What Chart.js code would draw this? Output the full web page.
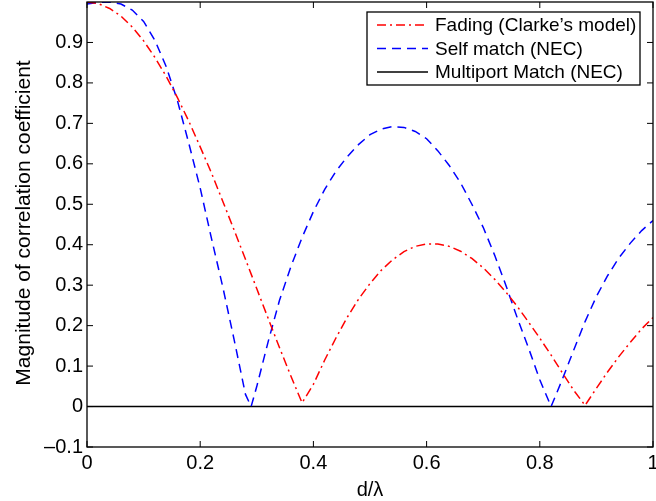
<!DOCTYPE html>
<html>
<head>
<meta charset="utf-8">
<script src="https://cdn.jsdelivr.net/npm/chart.js@4/dist/chart.umd.min.js"></script>
<style>
  html, body { margin: 0; padding: 0; background: #fff; }
  canvas { display: block; }
</style>
</head>
<body>
<canvas id="chart" width="656" height="501"></canvas>
<script>
// x positions (d/lambda) and values
const dFading = [0, 0.02, 0.04, 0.06, 0.08, 0.10, 0.12, 0.14, 0.16, 0.18, 0.20, 0.22, 0.24, 0.26, 0.28, 0.30, 0.32, 0.34, 0.36, 0.38, 0.40, 0.42, 0.44, 0.46, 0.48, 0.50, 0.52, 0.54, 0.56, 0.58, 0.60, 0.62, 0.64, 0.66, 0.68, 0.70, 0.72, 0.74, 0.76, 0.78, 0.80, 0.82, 0.84, 0.86, 0.88, 0.90, 0.92, 0.94, 0.96, 0.98, 1.00];
const fading = [1.000, 0.996, 0.984, 0.965, 0.938, 0.904, 0.863, 0.816, 0.763, 0.705, 0.642, 0.577, 0.507, 0.436, 0.364, 0.291, 0.218, 0.146, 0.076, 0.009, 0.055, 0.115, 0.170, 0.221, 0.266, 0.304, 0.337, 0.363, 0.383, 0.396, 0.402, 0.402, 0.396, 0.384, 0.366, 0.343, 0.315, 0.283, 0.248, 0.209, 0.169, 0.127, 0.083, 0.040, 0.003, 0.045, 0.086, 0.124, 0.159, 0.192, 0.220];

const dSelf = [0, 0.02, 0.04, 0.06, 0.08, 0.10, 0.12, 0.14, 0.16, 0.18, 0.20, 0.22, 0.24, 0.26, 0.28, 0.29, 0.30, 0.32, 0.34, 0.36, 0.38, 0.40, 0.42, 0.44, 0.46, 0.48, 0.50, 0.52, 0.54, 0.56, 0.58, 0.60, 0.62, 0.64, 0.66, 0.68, 0.70, 0.72, 0.74, 0.76, 0.78, 0.80, 0.82, 0.84, 0.86, 0.88, 0.90, 0.92, 0.94, 0.96, 0.98, 1.00];
const selfMatch = [0.995, 0.999, 1.000, 0.995, 0.980, 0.952, 0.905, 0.840, 0.755, 0.650, 0.540, 0.415, 0.295, 0.165, 0.030, 0.000, 0.050, 0.160, 0.262, 0.345, 0.418, 0.482, 0.537, 0.582, 0.618, 0.648, 0.672, 0.686, 0.692, 0.690, 0.680, 0.662, 0.632, 0.596, 0.553, 0.500, 0.443, 0.375, 0.300, 0.220, 0.145, 0.066, 0.000, 0.068, 0.140, 0.210, 0.272, 0.324, 0.368, 0.404, 0.435, 0.460];

const dMulti = [0, 1];
const multiport = [0, 0];

const seriesNames = ["Fading (Clarke\u2019s model)", "Self match (NEC)", "Multiport Match (NEC)"];
const xTicks = [0, 0.2, 0.4, 0.6, 0.8, 1];
const yTicks = [-0.1, 0, 0.1, 0.2, 0.3, 0.4, 0.5, 0.6, 0.7, 0.8, 0.9];

const FONT = "'Liberation Sans', Arial, Helvetica, sans-serif";

function pts(xs, ys) {
  return xs.map((x, i) => ({ x: x, y: ys[i] }));
}

function fmt(v) {
  const s = String(Math.abs(Number(v.toFixed(1))));
  return v < -1e-9 ? "\u2013" + s : s;
}

// box round the axes, ticks pointing in, axis titles and the legend
const matlabFrame = {
  id: "matlabFrame",
  afterDatasetsDraw(c) {
    const ctx = c.ctx;
    const a = c.chartArea;
    const xs = c.scales.x, ys = c.scales.y;
    ctx.save();
    ctx.strokeStyle = "#000";
    ctx.lineWidth = 1.3;
    ctx.strokeRect(a.left, a.top, a.right - a.left, a.bottom - a.top);
    ctx.beginPath();
    xTicks.forEach(v => {
      const px = xs.getPixelForValue(v);
      ctx.moveTo(px, a.bottom); ctx.lineTo(px, a.bottom - 6);
      ctx.moveTo(px, a.top); ctx.lineTo(px, a.top + 6);
    });
    yTicks.forEach(v => {
      const py = ys.getPixelForValue(v);
      ctx.moveTo(a.left, py); ctx.lineTo(a.left + 6, py);
      ctx.moveTo(a.right, py); ctx.lineTo(a.right - 6, py);
    });
    ctx.lineWidth = 1;
    ctx.stroke();

    // axis titles
    ctx.fillStyle = "#000";
    ctx.font = "20px " + FONT;
    ctx.textAlign = "center";
    ctx.textBaseline = "middle";
    ctx.fillText("d/\u03bb", (a.left + a.right) / 2, 490);
    ctx.save();
    ctx.font = "21px " + FONT;
    ctx.translate(24, 223);
    ctx.rotate(-Math.PI / 2);
    ctx.fillText("Magnitude of correlation coefficient", 0, 0);
    ctx.restore();

    // legend
    const bx = 367, by = 12, bw = 273, bh = 73;
    ctx.fillStyle = "#fff";
    ctx.fillRect(bx, by, bw, bh);
    ctx.strokeStyle = "#000";
    ctx.lineWidth = 1.3;
    ctx.strokeRect(bx, by, bw, bh);
    ctx.font = "19px " + FONT;
    ctx.textAlign = "left";
    c.data.datasets.forEach((ds, i) => {
      const y = by + 13 + i * 23.5;
      ctx.beginPath();
      ctx.strokeStyle = ds.borderColor;
      ctx.lineWidth = ds.borderWidth;
      ctx.setLineDash(ds.borderDash || []);
      ctx.moveTo(bx + 10, y);
      ctx.lineTo(bx + 61, y);
      ctx.stroke();
      ctx.setLineDash([]);
      ctx.fillStyle = "#000";
      ctx.fillText(seriesNames[i], bx + 68, y + 1);
    });
    ctx.restore();
  }
};

let chart;

function drawChart() {
  const ctx = document.getElementById("chart");
  if (chart) chart.destroy();

  chart = new Chart(ctx, {
    type: "line",
    data: {
      datasets: [
        { label: seriesNames[0], data: pts(dFading, fading), borderColor: "#ff0000", borderWidth: 1.5, borderDash: [9, 4, 2, 4] },
        { label: seriesNames[1], data: pts(dSelf, selfMatch), borderColor: "#0000ff", borderWidth: 1.5, borderDash: [9, 6] },
        { label: seriesNames[2], data: pts(dMulti, multiport), borderColor: "#000000", borderWidth: 1.6 }
      ]
    },
    options: {
      responsive: false,
      animation: false,
      devicePixelRatio: 1,
      layout: { padding: { top: 2, right: 3, left: 0, bottom: 0 } },
      elements: { point: { radius: 0 }, line: { tension: 0, fill: false } },
      plugins: { legend: { display: false }, tooltip: { enabled: false } },
      scales: {
        x: {
          type: "linear", min: 0, max: 1,
          grid: { display: false, drawTicks: false },
          border: { display: false },
          // let the last label "1" hang past the edge like the original
          afterFit: s => { s.height = 54; s.paddingRight = 0; s.paddingLeft = 0; },
          afterBuildTicks: s => { s.ticks = xTicks.map(v => ({ value: v })); },
          ticks: { padding: 4, color: "#000", font: { family: FONT, size: 20 }, maxRotation: 0, callback: v => fmt(v) }
        },
        y: {
          type: "linear", min: -0.1, max: 1,
          grid: { display: false, drawTicks: false },
          border: { display: false },
          afterFit: s => { s.width = 87; s.paddingTop = 0; s.paddingBottom = 0; },
          afterBuildTicks: s => { s.ticks = yTicks.map(v => ({ value: v })); },
          ticks: { padding: 4, color: "#000", font: { family: FONT, size: 20 }, callback: v => fmt(v) }
        }
      }
    },
    plugins: [matlabFrame]
  });
}

drawChart();
</script>
</body>
</html>
